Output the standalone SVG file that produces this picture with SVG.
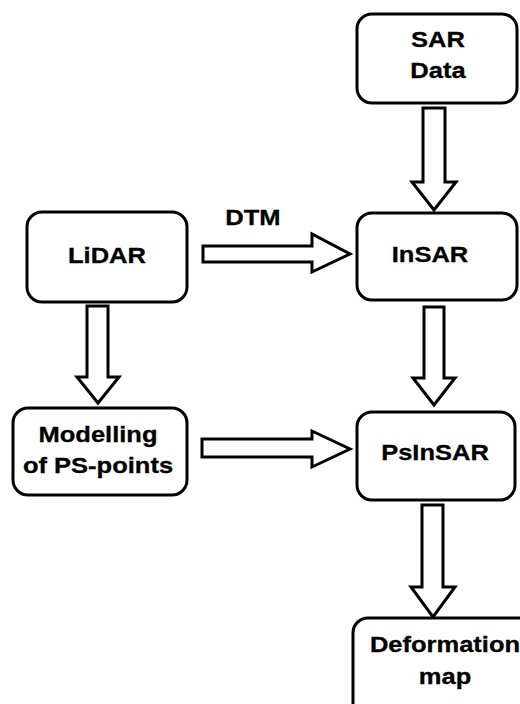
<svg xmlns="http://www.w3.org/2000/svg" width="520" height="704" viewBox="0 0 520 704">
  <style>
    .box { fill: #ffffff; stroke: #000000; stroke-width: 3; }
    .arrow { fill: #ffffff; stroke: #000000; stroke-width: 3; stroke-linejoin: miter; }
    .label { font-family: "Liberation Sans", Arial, sans-serif; font-weight: bold; font-size: 22px; fill: #000000; text-anchor: middle; stroke: #000000; stroke-width: 0.3; }
  </style>
  <rect width="520" height="704" fill="#ffffff"/>

  <!-- block arrows -->
  <g id="connectors">
    <!-- SAR Data -> InSAR -->
    <polygon class="arrow" points="423,108 445,108 445,182 456,182 434,210 412,182 423,182"/>
    <!-- LiDAR -> InSAR (DTM) -->
    <polygon class="arrow" points="203,246 312,246 312,234 350,254 312,272 312,262 203,262"/>
    <!-- LiDAR -> Modelling -->
    <polygon class="arrow" points="87,306 108,306 108,377 119,377 98,403 77,377 87,377"/>
    <!-- InSAR -> PsInSAR -->
    <polygon class="arrow" points="424,307 444,307 444,378 455,378 434,405 413,378 424,378"/>
    <!-- Modelling -> PsInSAR -->
    <polygon class="arrow" points="202,439 312,439 312,431 350,449 312,467 312,457 202,457"/>
    <!-- PsInSAR -> Deformation map -->
    <polygon class="arrow" points="422,505 443,505 443,587 455,587 433,617 411,587 422,587"/>
    <text class="label" transform="translate(253,225) scale(1.16,1)">DTM</text>
  </g>

  <g id="sar-data">
    <rect class="box" x="357" y="14" width="160" height="89" rx="15"/>
    <text class="label" transform="translate(438,47) scale(1.16,1)">SAR</text>
    <text class="label" transform="translate(438,78) scale(1.16,1)">Data</text>
  </g>

  <g id="lidar">
    <rect class="box" x="27" y="212" width="160" height="90" rx="15"/>
    <text class="label" transform="translate(107,263) scale(1.16,1)">LiDAR</text>
  </g>

  <g id="insar">
    <rect class="box" x="357" y="213" width="160" height="87" rx="15"/>
    <text class="label" transform="translate(430,262) scale(1.16,1)">InSAR</text>
  </g>

  <g id="modelling">
    <rect class="box" x="13" y="408" width="174" height="87" rx="15"/>
    <text class="label" transform="translate(98,442) scale(1.16,1)">Modelling</text>
    <text class="label" transform="translate(98,473) scale(1.16,1)">of PS-points</text>
  </g>

  <g id="psinsar">
    <rect class="box" x="357" y="412" width="158" height="88" rx="15"/>
    <text class="label" transform="translate(435,460) scale(1.16,1)">PsInSAR</text>
  </g>

  <g id="deformation-map">
    <rect class="box" x="353" y="618" width="190" height="100" rx="15"/>
    <text class="label" transform="translate(445,652) scale(1.16,1)">Deformation</text>
    <text class="label" transform="translate(445,684) scale(1.16,1)">map</text>
  </g>
</svg>
